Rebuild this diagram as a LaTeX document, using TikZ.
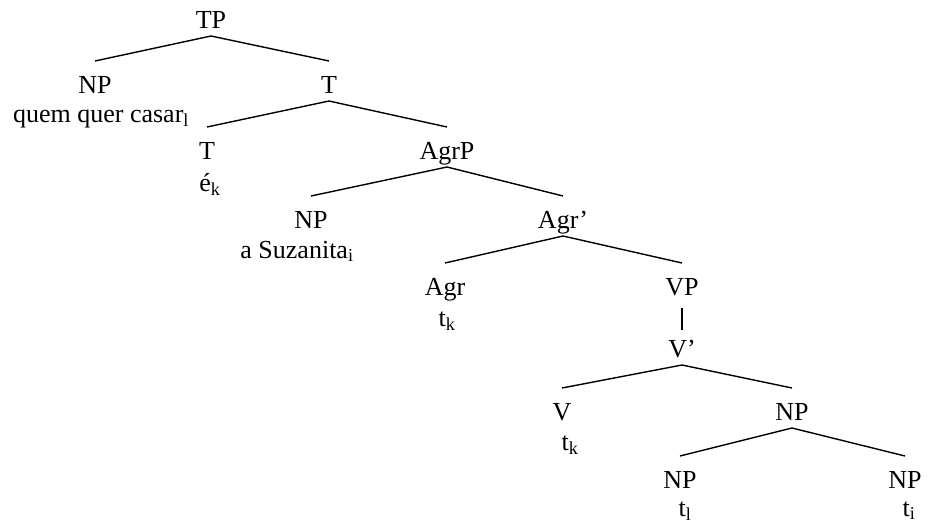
\documentclass[tikz,border=0pt]{standalone}
\usepackage{fontspec}
\setmainfont{Liberation Serif}
\usetikzlibrary{calc}
\newcommand\branch[2]{\draw ([yshift=-8pt]#1.base) -- ([yshift=32pt]#2.base);}

\begin{document}
\begin{tikzpicture}[x=1pt,y=-1pt,line width=1.4pt,
	cat/.style={inner sep=0pt,anchor=base,font=\fontsize{26}{30}\selectfont},
	word/.style={inner sep=0pt,anchor=base,font=\fontsize{26}{30}\selectfont}]
	%%%%% START %%%%%
	\useasboundingbox (0,0) rectangle (936,525);

	\node[cat] (tp) at (211,28) {TP};
	\node[cat] (np1) at (95,93) {NP};
	\node[word] (w1) at (101,122) {quem quer casar\textsubscript{l}};
	\node[cat] (tbar) at (329,93) {T};
	\node[cat] (t) at (207,159) {T};
	\node[word] (w2) at (210,191) {é\textsubscript{k}};
	\node[cat] (agrp) at (447,159) {AgrP};
	\node[cat] (np2) at (311,228) {NP};
	\node[word] (w3) at (297,258) {a Suzanita\textsubscript{i}};
	\node[cat] (agrbar) at (563,228) {Agr’};
	\node[cat] (agr) at (445,295) {Agr};
	\node[word] (w4) at (447,326) {t\textsubscript{k}};
	\node[cat] (vp) at (682,295) {VP};
	\node[cat] (vbar) at (682,357) {V’};
	\node[cat] (v) at (562,420) {V};
	\node[word] (w5) at (570,450) {t\textsubscript{k}};
	\node[cat] (np3) at (792,420) {NP};
	\node[cat] (np4) at (680,488) {NP};
	\node[word] (w6) at (685,516) {t\textsubscript{l}};
	\node[cat] (np5) at (905,488) {NP};
	\node[word] (w7) at (909,516) {t\textsubscript{i}};

	\branch{tp}{np1}
	\branch{tp}{tbar}
	\branch{tbar}{t}
	\branch{tbar}{agrp}
	\branch{agrp}{np2}
	\branch{agrp}{agrbar}
	\branch{agrbar}{agr}
	\branch{agrbar}{vp}
	\draw ([yshift=-13pt]vp.base) -- ([yshift=27pt]vbar.base);
	\branch{vbar}{v}
	\branch{vbar}{np3}
	\branch{np3}{np4}
	\branch{np3}{np5}
	%%%%% END %%%%%
\end{tikzpicture}
\end{document}
